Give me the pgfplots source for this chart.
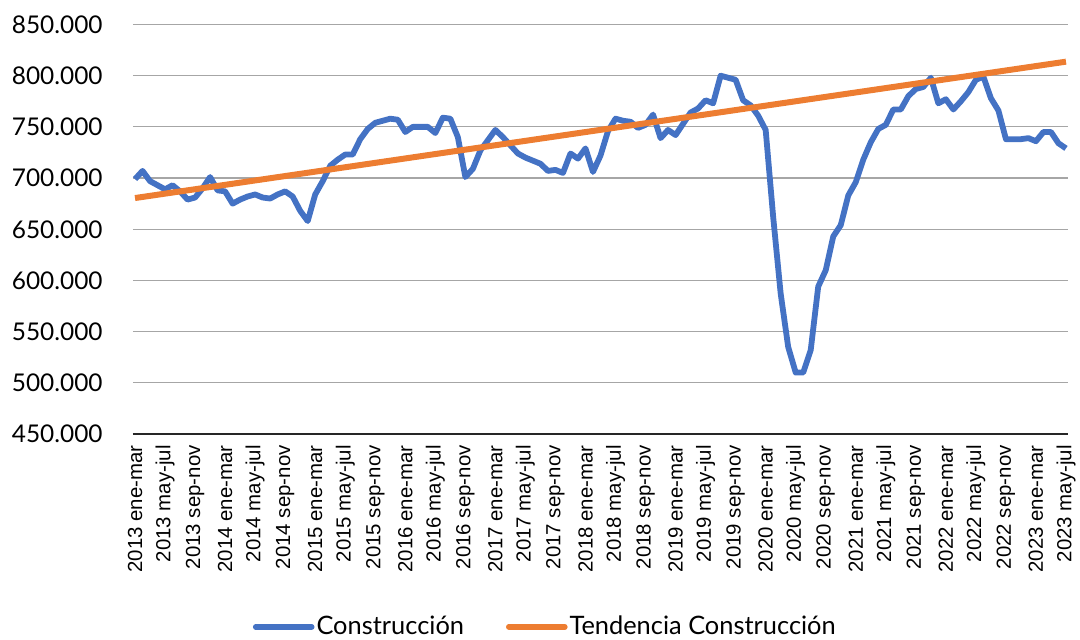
\documentclass[border=0pt]{standalone}
\usepackage{pgfplots}
\pgfplotsset{compat=1.18}
\usepackage{fontspec}
\setmainfont{Lato}
\newfontfamily\arialf{Liberation Sans}
\definecolor{cblue}{HTML}{4472C4}
\definecolor{corange}{HTML}{ED7D31}
\definecolor{cgrid}{HTML}{A6A6A6}
\pgfplotstableread{
i v
0 699
1 707
2 697
3 693
4 689
5 693
6 687
7 679
8 681
9 690
10 701
11 688
12 687
13 675
14 679
15 682
16 684
17 681
18 680
19 684
20 687
21 682
22 668
23 658
24 684
25 697
26 712
27 718
28 723
29 723
30 738
31 748
32 754
33 756
34 758
35 757
36 745
37 750
38 750
39 750
40 744
41 759
42 758
43 740
44 701
45 709
46 727
47 737
48 747
49 740
50 732
51 724
52 720
53 717
54 714
55 707
56 708
57 705
58 724
59 719
60 729
61 706
62 722
63 746
64 758
65 756
66 755
67 749
68 752
69 762
70 739
71 747
72 742
73 753
74 764
75 768
76 776
77 773
78 800
79 798
80 796
81 776
82 771
83 761
84 747
85 662
86 587
87 535
88 510
89 510
90 532
91 594
92 610
93 643
94 654
95 683
96 696
97 718
98 735
99 748
100 752
101 767
102 767
103 780
104 787
105 789
106 798
107 773
108 777
109 767
110 775
111 784
112 796
113 799
114 778
115 766
116 738
117 738
118 738
119 739
120 736
121 745
122 745
123 734
124 729
}\construccion
\pgfplotstableread{
i v
0 680.5
124 813.7
}\tendencia
\begin{document}
\begin{tikzpicture}
\useasboundingbox (-66.5pt,-102.5pt) rectangle (473.5pt,217pt);
\begin{axis}[
  at={(0pt,0pt)}, anchor=south west,
  scale only axis,
  width=467.5pt, height=204.75pt,
  xmin=-0.27, xmax=124.27,
  ymin=450, ymax=850,
  ytick={450,500,...,850},
  yticklabels={450.000,500.000,550.000,600.000,650.000,700.000,750.000,800.000,850.000},
  xtick={0,4,...,124},
  xticklabels={2013 ene-mar,2013 may-jul,2013 sep-nov,2014 ene-mar,2014 may-jul,2014 sep-nov,2015 ene-mar,2015 may-jul,2015 sep-nov,2016 ene-mar,2016 may-jul,2016 sep-nov,2017 ene-mar,2017 may-jul,2017 sep-nov,2018 ene-mar,2018 may-jul,2018 sep-nov,2019 ene-mar,2019 may-jul,2019 sep-nov,2020 ene-mar,2020 may-jul,2020 sep-nov,2021 ene-mar,2021 may-jul,2021 sep-nov,2022 ene-mar,2022 may-jul,2022 sep-nov,2023 ene-mar,2023 may-jul},
  major tick length=0pt,
  axis x line*=bottom,
  axis y line*=left,
  y axis line style={draw=none},
  x axis line style={draw=black!85, line width=1pt, -},
  ymajorgrids,
  grid style={cgrid, line width=0.6pt},
  yticklabel style={font=\fontsize{12.2}{14}\selectfont, inner sep=0pt, anchor=east, xshift=-15pt},
  xticklabel style={font=\arialf\fontsize{10.2}{12}\selectfont, yshift=-5.5pt, rotate=90, anchor=east, inner sep=0pt},
  legend style={draw=none, fill=none, at={(0.441,-0.471)}, anchor=center, legend columns=2,
    font=\fontsize{12.7}{14}\selectfont,
    /tikz/every even column/.append style={column sep=20pt},
    nodes={inner xsep=1pt, inner ysep=0pt}},
  legend image code/.code={\draw[#1, line cap=round, line width=2.8pt] (0pt,0pt) -- (28pt,0pt);},
]
\addplot[cblue, line width=2.9pt, line join=round] table[x=i, y=v] {\construccion};
\addlegendentry{Construcción}
\addplot[corange, line width=3pt] table[x=i, y=v] {\tendencia};
\addlegendentry{Tendencia Construcción}
\end{axis}
\end{tikzpicture}
\end{document}
